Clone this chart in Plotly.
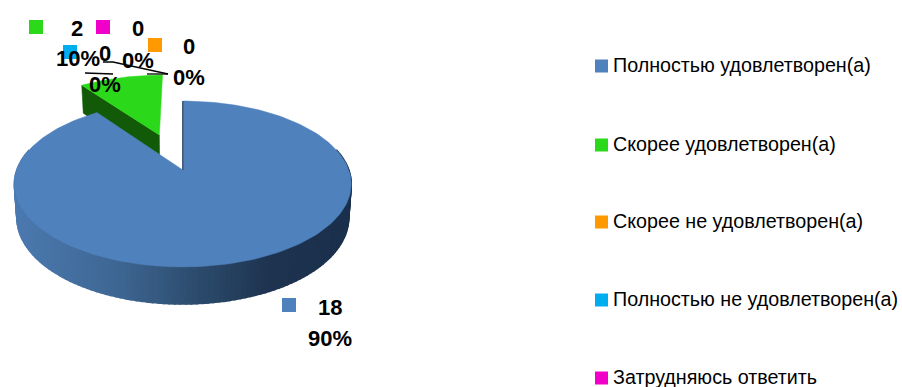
import numpy as np
import plotly.graph_objects as go

categories = ["Полностью удовлетворен(а)", "Скорее удовлетворен(а)", "Скорее не удовлетворен(а)",
              "Полностью не удовлетворен(а)", "Затрудняюсь ответить"]
values = [18, 2, 0, 0, 0]
percents = ["90%", "10%", "0%", "0%", "0%"]
colors = ["#4f81bd", "#2cd91a", "#ff9900", "#00aeef", "#f000c8"]
explode = [0.0, 0.493, 0.0, 0.0, 0.0]

FONT = "Liberation Sans, Arial, sans-serif"
W, H = 902, 387
CX, CY = 182.8, 170
A, B, P = 166.0, 80.6, 0.1687


def top(X, Y):
    w = 1 - P * Y
    return CX + A * X / w, CY + B * Y / w


def bottom(X, Y):
    w = 1 - P * Y
    return CX + 0.985 * A * X / w, CY + B * Y / w + (33 + 4 * Y)


def lerp_color(x):
    stops = [(14, (76, 122, 176)), (120, (62, 102, 146)), (190, (46, 78, 112)), (270, (30, 52, 80)), (352, (27, 48, 76))]
    xs = [s[0] for s in stops]
    c = [np.interp(x, xs, [s[1][i] for s in stops]) for i in range(3)]
    return "rgb(%d,%d,%d)" % tuple(int(v) for v in c)


def poly(xs, ys, color, lw=0.5):
    return go.Scatter(x=xs, y=ys, mode="lines", fill="toself", fillcolor=color,
                      line=dict(color=color, width=lw), hoverinfo="skip", showlegend=False)


fig = go.Figure()
total = sum(values)

# slice angles come from the values
starts = np.cumsum([0] + values[:-1]) / total * 2 * np.pi
sweeps = np.array(values) / total * 2 * np.pi

# green slice (behind the blue one)
s, d = starts[1], sweeps[1]
mid = s + d / 2
ox, oy = explode[1] * np.sin(mid), -explode[1] * np.cos(mid)
th = np.linspace(s, s + d, 30)
gx, gy = ox + np.sin(th), oy - np.cos(th)
tx0, ty0 = top(ox, oy)
lx, ly = (gx[0], gy[0]) if gx[0] < gx[-1] else (gx[-1], gy[-1])
tx1, ty1 = top(lx, ly)
bx0, by0 = bottom(ox, oy)
bx1, by1 = bottom(lx, ly)
fig.add_trace(poly([tx0, tx1, bx1, bx0, tx0], [ty0, ty1, by1, by0, ty0], "#135a08"))
px, py = top(gx, gy)
fig.add_trace(poly([tx0, *px, tx0], [ty0, *py, ty0], colors[1]))

# blue slice: gradient side, then top face
s, d = starts[0], sweeps[0]
th = np.linspace(s, s + d, 200)
bxv, byv = np.sin(th), -np.cos(th)
for i in range(len(th) - 1):
    if byv[i] < -0.25 and byv[i + 1] < -0.25:
        continue
    x1, y1 = top(bxv[i:i + 2], byv[i:i + 2])
    x2, y2 = bottom(bxv[i:i + 2], byv[i:i + 2])
    fig.add_trace(poly([x1[0], x1[1], x2[1], x2[0], x1[0]], [y1[0], y1[1], y2[1], y2[0], y1[0]],
                       lerp_color((x1[0] + x1[1]) / 2), lw=1.6))
px, py = top(bxv, byv)
a0x, a0y = top(0, 0)
fig.add_trace(poly([a0x, *px, a0x], [a0y, *py, a0y], colors[0]))
# thin dark edge of the cut face
fig.add_trace(go.Scatter(x=[a0x, px[0]], y=[a0y, py[0]], mode="lines", line=dict(color="#1c324f", width=1),
                         hoverinfo="skip", showlegend=False))

# leader lines
leaders = [([103, 113, 168], [62, 62, 74]), ([85, 113], [73, 74]), ([147, 168], [74, 74])]
for lxs, lys in leaders:
    fig.add_trace(go.Scatter(x=lxs, y=lys, mode="lines", line=dict(color="black", width=1.3),
                             hoverinfo="skip", showlegend=False))

# data labels: swatch, value, percent positions by category index
label_pos = {0: ((289, 305), (330, 307), (330, 338)),
             1: ((36, 27), (77, 28), (78, 58)),
             2: ((155, 45), (189, 46), (189, 77)),
             3: ((70, 52), (105, 53), (105, 84)),
             4: ((103, 27), (138, 28), (138, 60))}
ann = []
for i, (sw, vp, pp) in label_pos.items():
    fig.add_trace(go.Scatter(x=[sw[0]], y=[sw[1]], mode="markers",
                             marker=dict(symbol="square", size=14, color=colors[i], line=dict(width=0)),
                             hoverinfo="skip", showlegend=False))
    for (x, y), t in ((vp, str(values[i])), (pp, percents[i])):
        ann.append(dict(x=x, y=y, text="<b>%s</b>" % t, showarrow=False, xanchor="center", yanchor="middle",
                        font=dict(family=FONT, size=22, color="black")))

# legend
legend_y = [66, 145, 222, 300, 378]
for i, ly_ in enumerate(legend_y):
    fig.add_trace(go.Scatter(x=[601.5], y=[ly_], mode="markers",
                             marker=dict(symbol="square", size=13, color=colors[i], line=dict(width=0)),
                             hoverinfo="skip", showlegend=False))
    ann.append(dict(x=610.5, y=ly_ - 1, text=categories[i], showarrow=False, xanchor="left", yanchor="middle",
                    font=dict(family=FONT, size=19.7, color="black")))

fig.update_layout(width=W, height=H, margin=dict(l=0, r=0, t=0, b=0), paper_bgcolor="white", plot_bgcolor="white",
                  xaxis=dict(range=[0, W], visible=False, fixedrange=True),
                  yaxis=dict(range=[H, 0], visible=False, fixedrange=True),
                  annotations=ann, showlegend=False)
fig.write_html("out.html", config={"displayModeBar": False},
               post_script="document.body.style.margin='0';document.documentElement.style.overflow='hidden';")
